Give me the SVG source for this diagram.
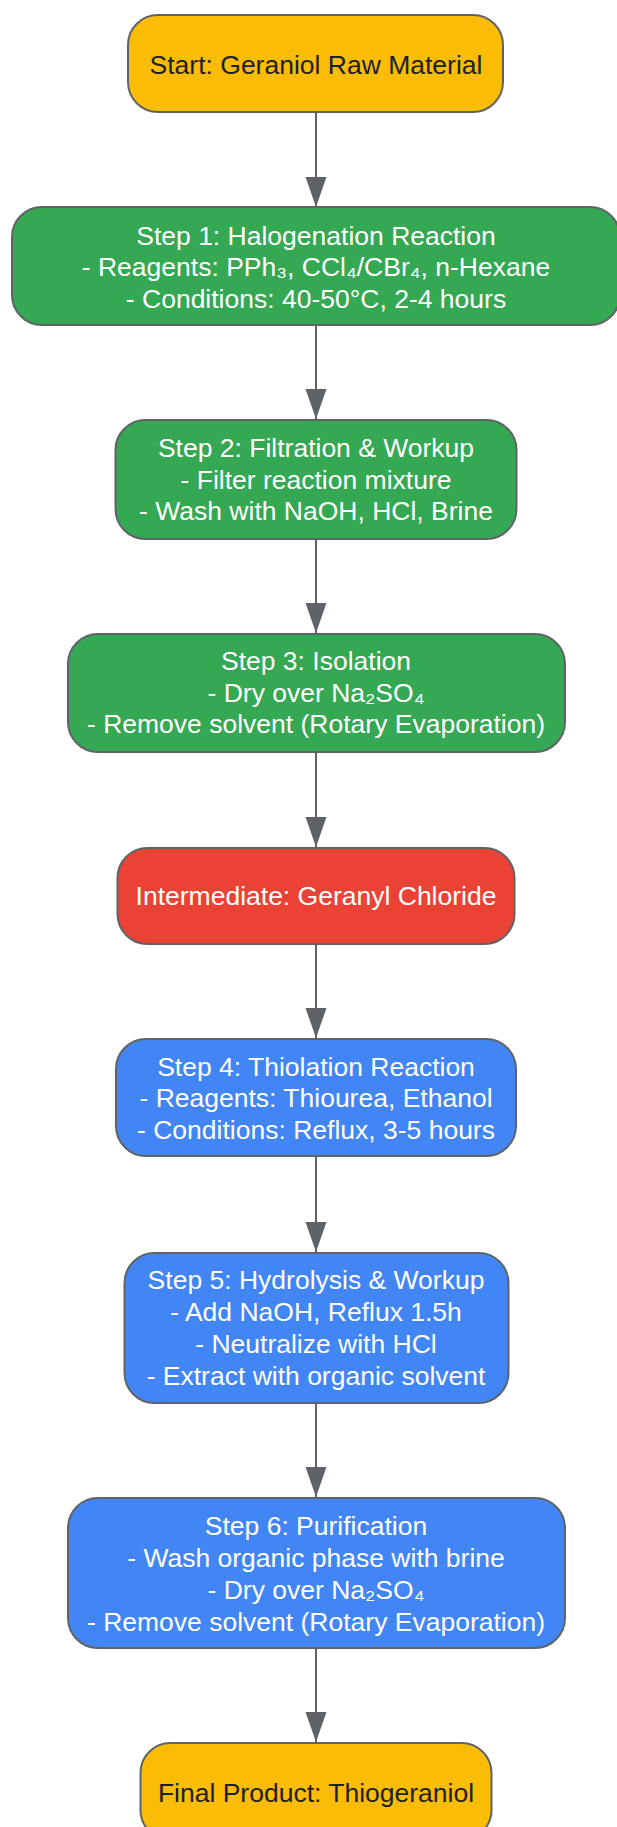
<svg xmlns="http://www.w3.org/2000/svg" width="617" height="1827" viewBox="0 0 617 1827">
<style>
.node{stroke:#5f6368;stroke-width:2}
.t{font-family:"Liberation Sans",Arial,"DejaVu Sans",sans-serif;font-size:26.5px;text-anchor:middle}
.w{fill:#ffffff}
.d{fill:#202124}
.edge{stroke:#5f6368;stroke-width:2;fill:none}
</style>
<defs>
<marker id="arr" markerUnits="userSpaceOnUse" markerWidth="30" markerHeight="22" refX="30" refY="11" orient="auto">
<path d="M0,0.5 L30,11 L0,21.5 z" fill="#5f6368"/>
</marker>
</defs>
<rect width="617" height="1827" fill="#ffffff"/>
<g id="connectors">
<line class="edge" x1="316" y1="112" x2="316" y2="207" marker-end="url(#arr)"/>
<line class="edge" x1="316" y1="325" x2="316" y2="419" marker-end="url(#arr)"/>
<line class="edge" x1="316" y1="539" x2="316" y2="633" marker-end="url(#arr)"/>
<line class="edge" x1="316" y1="752" x2="316" y2="847" marker-end="url(#arr)"/>
<line class="edge" x1="316" y1="944" x2="316" y2="1038" marker-end="url(#arr)"/>
<line class="edge" x1="316" y1="1156" x2="316" y2="1252" marker-end="url(#arr)"/>
<line class="edge" x1="316" y1="1403" x2="316" y2="1497" marker-end="url(#arr)"/>
<line class="edge" x1="316" y1="1648" x2="316" y2="1742" marker-end="url(#arr)"/>
</g>
<g id="start">
<rect class="node" x="128" y="15" width="375" height="97" rx="30" fill="#fbbc05"/>
<text class="t d" x="316" y="73.5">Start: Geraniol Raw Material</text>
</g>
<g id="step1">
<rect class="node" x="12" y="207" width="608" height="118" rx="30" fill="#34a853"/>
<text class="t w" x="316" y="244.5">Step 1: Halogenation Reaction</text>
<text class="t w" x="316" y="276">- Reagents: PPh₃, CCl₄/CBr₄, n-Hexane</text>
<text class="t w" x="316" y="307.5">- Conditions: 40-50°C, 2-4 hours</text>
</g>
<g id="step2">
<rect class="node" x="115.5" y="420" width="401" height="119" rx="30" fill="#34a853"/>
<text class="t w" x="316" y="457">Step 2: Filtration &amp; Workup</text>
<text class="t w" x="316" y="488.5">- Filter reaction mixture</text>
<text class="t w" x="316" y="520">- Wash with NaOH, HCl, Brine</text>
</g>
<g id="step3">
<rect class="node" x="68" y="634" width="497" height="118" rx="30" fill="#34a853"/>
<text class="t w" x="316" y="670">Step 3: Isolation</text>
<text class="t w" x="316" y="701.5">- Dry over Na₂SO₄</text>
<text class="t w" x="316" y="733">- Remove solvent (Rotary Evaporation)</text>
</g>
<g id="intermediate">
<rect class="node" x="117.5" y="848" width="397" height="96" rx="30" fill="#ea4335"/>
<text class="t w" x="316" y="905">Intermediate: Geranyl Chloride</text>
</g>
<g id="step4">
<rect class="node" x="116" y="1039" width="400" height="117" rx="30" fill="#4285f4"/>
<text class="t w" x="316" y="1075.5">Step 4: Thiolation Reaction</text>
<text class="t w" x="316" y="1107">- Reagents: Thiourea, Ethanol</text>
<text class="t w" x="316" y="1139">- Conditions: Reflux, 3-5 hours</text>
</g>
<g id="step5">
<rect class="node" x="124.5" y="1253" width="384" height="150" rx="30" fill="#4285f4"/>
<text class="t w" x="316" y="1288.5">Step 5: Hydrolysis &amp; Workup</text>
<text class="t w" x="316" y="1320.5">- Add NaOH, Reflux 1.5h</text>
<text class="t w" x="316" y="1352.5">- Neutralize with HCl</text>
<text class="t w" x="316" y="1384.5">- Extract with organic solvent</text>
</g>
<g id="step6">
<rect class="node" x="68" y="1498" width="497" height="150" rx="30" fill="#4285f4"/>
<text class="t w" x="316" y="1535">Step 6: Purification</text>
<text class="t w" x="316" y="1567">- Wash organic phase with brine</text>
<text class="t w" x="316" y="1599">- Dry over Na₂SO₄</text>
<text class="t w" x="316" y="1631">- Remove solvent (Rotary Evaporation)</text>
</g>
<g id="final">
<rect class="node" x="140.5" y="1743" width="351" height="97" rx="30" fill="#fbbc05"/>
<text class="t d" x="316" y="1801.5">Final Product: Thiogeraniol</text>
</g>
</svg>
